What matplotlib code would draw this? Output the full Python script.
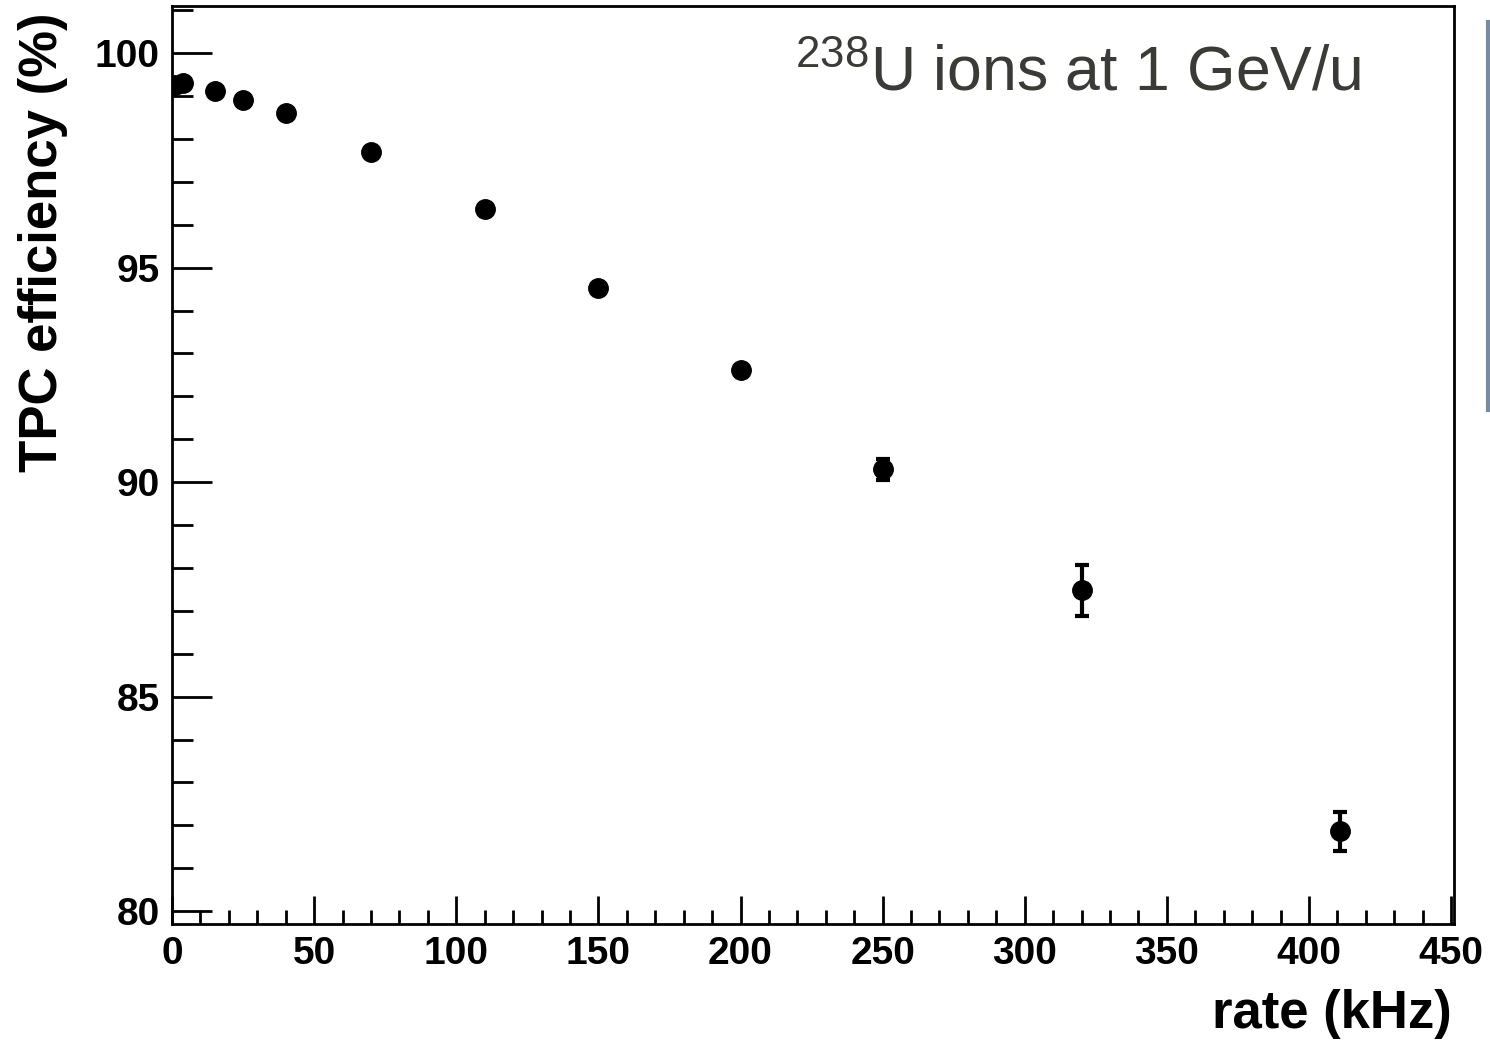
import matplotlib
matplotlib.use("Agg")
import matplotlib.pyplot as plt
from matplotlib.ticker import MultipleLocator
from matplotlib.lines import Line2D

plt.rcParams["font.family"] = ["Liberation Sans", "DejaVu Sans"]
plt.rcParams["mathtext.fontset"] = "custom"
plt.rcParams["mathtext.rm"] = "Liberation Sans"

# data
rate_khz = [1, 4, 15, 25, 40, 70, 110, 150, 200, 250, 320, 411]
efficiency = [99.25, 99.3, 99.11, 98.9, 98.6, 97.7, 96.36, 94.52, 92.61, 90.3, 87.48, 81.86]
eff_err = [0.05, 0.05, 0.05, 0.05, 0.05, 0.05, 0.05, 0.05, 0.08, 0.25, 0.6, 0.45]

fig = plt.figure(figsize=(14.9, 10.41), dpi=100)
ax = fig.add_axes([172 / 1490, 117 / 1041, 1282 / 1490, 918 / 1041])

ax.errorbar(rate_khz, efficiency, yerr=eff_err, fmt="o", color="black",
            markersize=14, elinewidth=3, capsize=5, capthick=3)

ax.set_xlim(0, 451)
ax.set_ylim(79.7, 101.1)
ax.xaxis.set_major_locator(MultipleLocator(50))
ax.xaxis.set_minor_locator(MultipleLocator(10))
ax.yaxis.set_major_locator(MultipleLocator(5))
ax.yaxis.set_minor_locator(MultipleLocator(1))

ax.tick_params(axis="x", which="major", direction="in", length=20, width=2,
               labelsize=28, pad=9)
ax.tick_params(axis="x", which="minor", direction="in", length=10, width=2)
ax.tick_params(axis="y", which="major", direction="in", length=29, width=2,
               labelsize=28, pad=9)
ax.tick_params(axis="y", which="minor", direction="in", length=15, width=2)
for lab in ax.get_xticklabels() + ax.get_yticklabels():
    lab.set_fontweight("bold")

for sp in ax.spines.values():
    sp.set_linewidth(2)

ax.text(0.486, 0.9085, r"$^{238}$U ions at 1 GeV/u", transform=ax.transAxes,
        fontsize=45, color="#3a3a36", ha="left", va="baseline")

fig.text(1452 / 1490, 1 - 1028 / 1041, "rate (kHz)", fontsize=38,
         fontweight="bold", ha="right", va="baseline")
fig.text(43 / 1490, 1 - 12 / 1041, "TPC efficiency (%)", fontsize=38,
         fontweight="bold", rotation=90, ha="center", va="top")

# grey slide edge on the far right
fig.add_artist(Line2D([1488 / 1490, 1488 / 1490], [1 - 410 / 1041, 1 - 22 / 1041],
                      transform=fig.transFigure, color="#7a8aa0", linewidth=3))

plt.savefig("out.png", dpi=100)
